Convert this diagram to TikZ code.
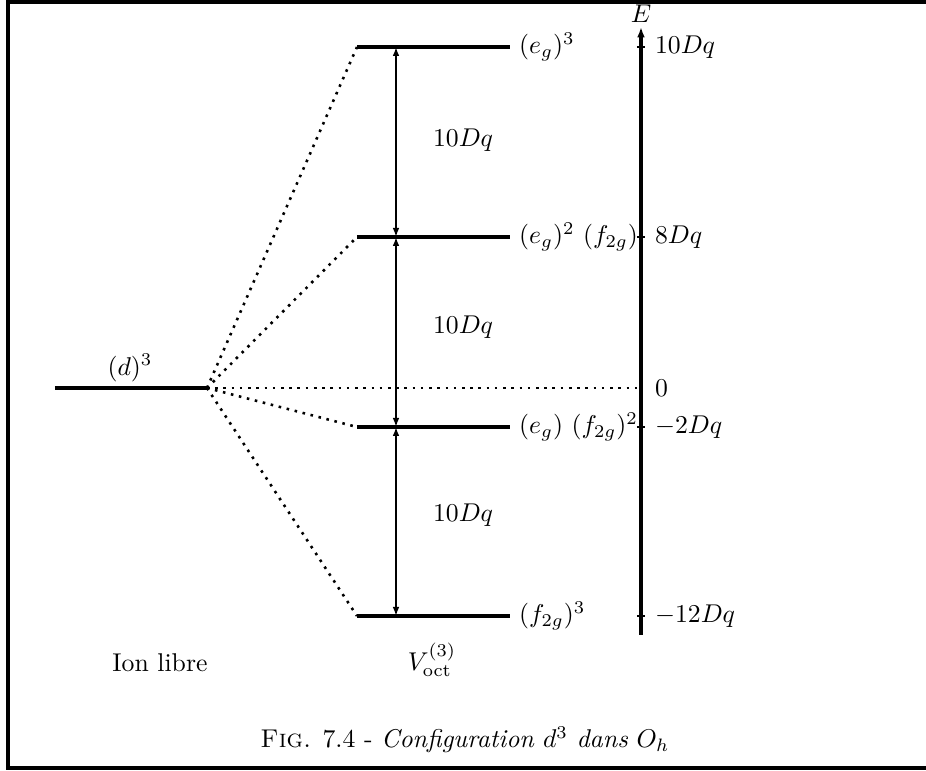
\documentclass[tikz,border=0pt]{standalone}
\usepackage{tikz}
\usetikzlibrary{arrows.meta}

\begin{document}
\begin{tikzpicture}[x=0.389pt,y=-0.389pt,
  level/.style={line width=1.5pt},
  link/.style={line width=1pt,dash pattern=on 1pt off 2.2pt},
  gap/.style={line width=0.6pt,{Latex[length=3.5pt,width=2.6pt]}-{Latex[length=3.5pt,width=2.6pt]}},
  axis/.style={line width=1.3pt,-{Latex[length=4pt,width=3pt]}},
  tick/.style={line width=0.8pt}]
\useasboundingbox (0,0) rectangle (926,771);
\draw[line width=1.2pt] (940,2) -- (8,2) -- (8,768) -- (940,768);

\coordinate (freel) at (55,388);
\coordinate (freer) at (207,388);
\draw[level] (freel) -- (freer);
\node (dlab) at (130,368) {$(d)^3$};

\foreach \y/\n in {47/a,237/b,427/c,616/d}{
  \coordinate (\n l) at (357,\y);
  \coordinate (\n r) at (510,\y);
  \coordinate (\n m) at (396,\y);
  \draw[level] (\n l) -- (\n r);
  \draw[link] (freer) -- (\n l);
}
\node[anchor=west] (alab) at (ar) {$(e_g)^3$};
\node[anchor=west] (blab) at (br) {$(e_g)^2\ (f_{2g})$};
\node[anchor=west] (clab) at (cr) {$(e_g)\ (f_{2g})^2$};
\node[anchor=west] (flab) at (dr) {$(f_{2g})^3$};

\draw[gap] (am) -- (bm);
\draw[gap] (bm) -- (cm);
\draw[gap] (cm) -- (dm);
\node[anchor=west] (g1) at (424,140) {$10Dq$};
\node[anchor=west] (g2) at (424,327) {$10Dq$};
\node[anchor=west] (g3) at (424,515) {$10Dq$};

\coordinate (axb) at (641,635);
\coordinate (axt) at (641,27);
\coordinate (zero) at (641,388);
\draw[link] (freer) -- (zero);
\draw[axis] (axb) -- (axt);
\node (elab) at (641,14) {$E$};
\foreach \y in {47,237,427,616}
  \draw[tick] (637,\y) -- (645,\y);
\node[anchor=west] (t1) at (646,47) {$10Dq$};
\node[anchor=west] (t2) at (646,237) {$8Dq$};
\node[anchor=west] (t3) at (646,388) {$0$};
\node[anchor=west] (t4) at (646,427) {$-2Dq$};
\node[anchor=west] (t5) at (646,616) {$-12Dq$};

\node (ion) at (160,663) {Ion libre};
\node (voct) at (432,660) {$V^{(3)}_{\mathrm{oct}}$};
\node (cap) at (465,740) {\textsc{Fig.} 7.4 - \textit{Configuration} $d^3$ \textit{dans} $O_h$};
\end{tikzpicture}
\end{document}
